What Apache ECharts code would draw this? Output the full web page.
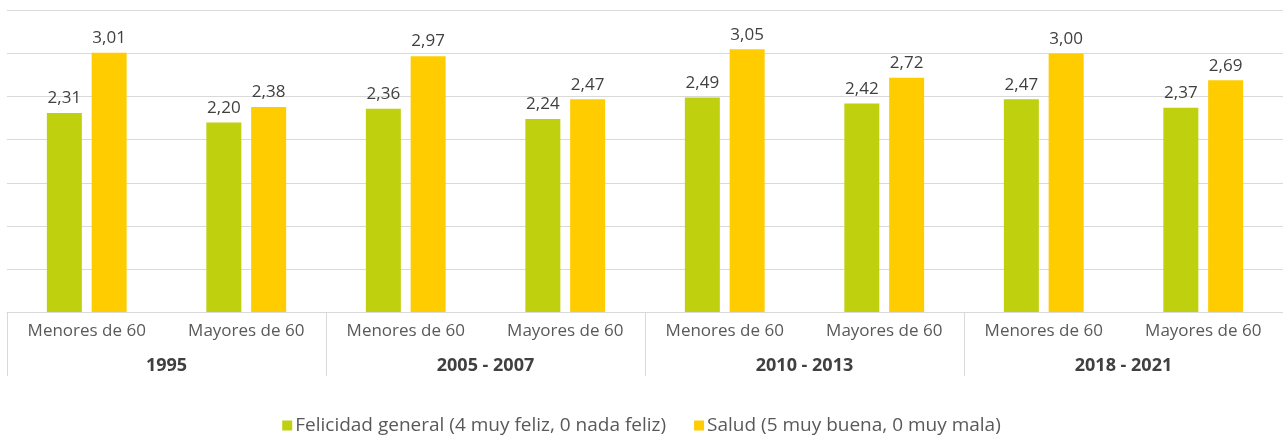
<!DOCTYPE html>
<html>
<head>
<meta charset="utf-8">
<script src="https://cdn.jsdelivr.net/npm/echarts@6/dist/echarts.min.js"></script>
<style>
  html, body { margin: 0; padding: 0; background: #fff; }
  #chart { width: 1283px; height: 436px; }
</style>
</head>
<body>
<div id="chart"></div>
<script>
var groups = ['1995', '2005 - 2007', '2010 - 2013', '2018 - 2021'];
var ages = ['Menores de 60', 'Mayores de 60', 'Menores de 60', 'Mayores de 60',
            'Menores de 60', 'Mayores de 60', 'Menores de 60', 'Mayores de 60'];
var felicidad = [2.31, 2.20, 2.36, 2.24, 2.49, 2.42, 2.47, 2.37];
var salud = [3.01, 2.38, 2.97, 2.47, 3.05, 2.72, 3.00, 2.69];
var seriesNames = ['Felicidad general (4 muy feliz, 0 nada feliz)', 'Salud (5 muy buena, 0 muy mala)'];

var font = 'Open Sans';
function fmt(p) { return p.value.toFixed(2).replace('.', ','); }

var label = {
  show: true, position: 'top', distance: 6,
  formatter: fmt, color: '#404040', fontSize: 17, fontFamily: font
};

var option = {
  animation: false,
  grid: { left: 7, right: 0, top: 10.5, bottom: 124 },
  legend: {
    top: 411, left: 'center',
    itemWidth: 10, itemHeight: 10, itemGap: 28,
    icon: 'rect',
    textStyle: { color: '#595959', fontSize: 19, fontFamily: font, padding: [0, 0, 0, -2] },
    data: seriesNames
  },
  xAxis: [{
    type: 'category',
    data: ages,
    axisLine: { lineStyle: { color: '#d9d9d9' } },
    axisTick: { show: false },
    axisLabel: { interval: 0, margin: 11, color: '#595959', fontSize: 17, fontFamily: font }
  }, {
    type: 'category',
    position: 'bottom',
    data: groups,
    axisLine: { show: false },
    axisTick: { show: true, length: 64, interval: 0, lineStyle: { color: '#d9d9d9' } },
    axisLabel: { interval: 0, margin: 45, color: '#404040', fontSize: 18, fontWeight: 'bold', fontFamily: font }
  }],
  yAxis: {
    type: 'value', min: 0, max: 3.5, interval: 0.5,
    axisLabel: { show: false },
    axisLine: { show: false },
    axisTick: { show: false },
    splitLine: { lineStyle: { color: '#d9d9d9' } }
  },
  series: [{
    name: seriesNames[0], type: 'bar', data: felicidad,
    barWidth: 35, barGap: '28%',
    itemStyle: { color: '#bfd00e' },
    label: label
  }, {
    name: seriesNames[1], type: 'bar', data: salud,
    barWidth: 35,
    itemStyle: { color: '#ffcc00' },
    label: label
  }]
};

var myChart = echarts.init(document.getElementById('chart'));
myChart.setOption(option);
</script>
</body>
</html>
